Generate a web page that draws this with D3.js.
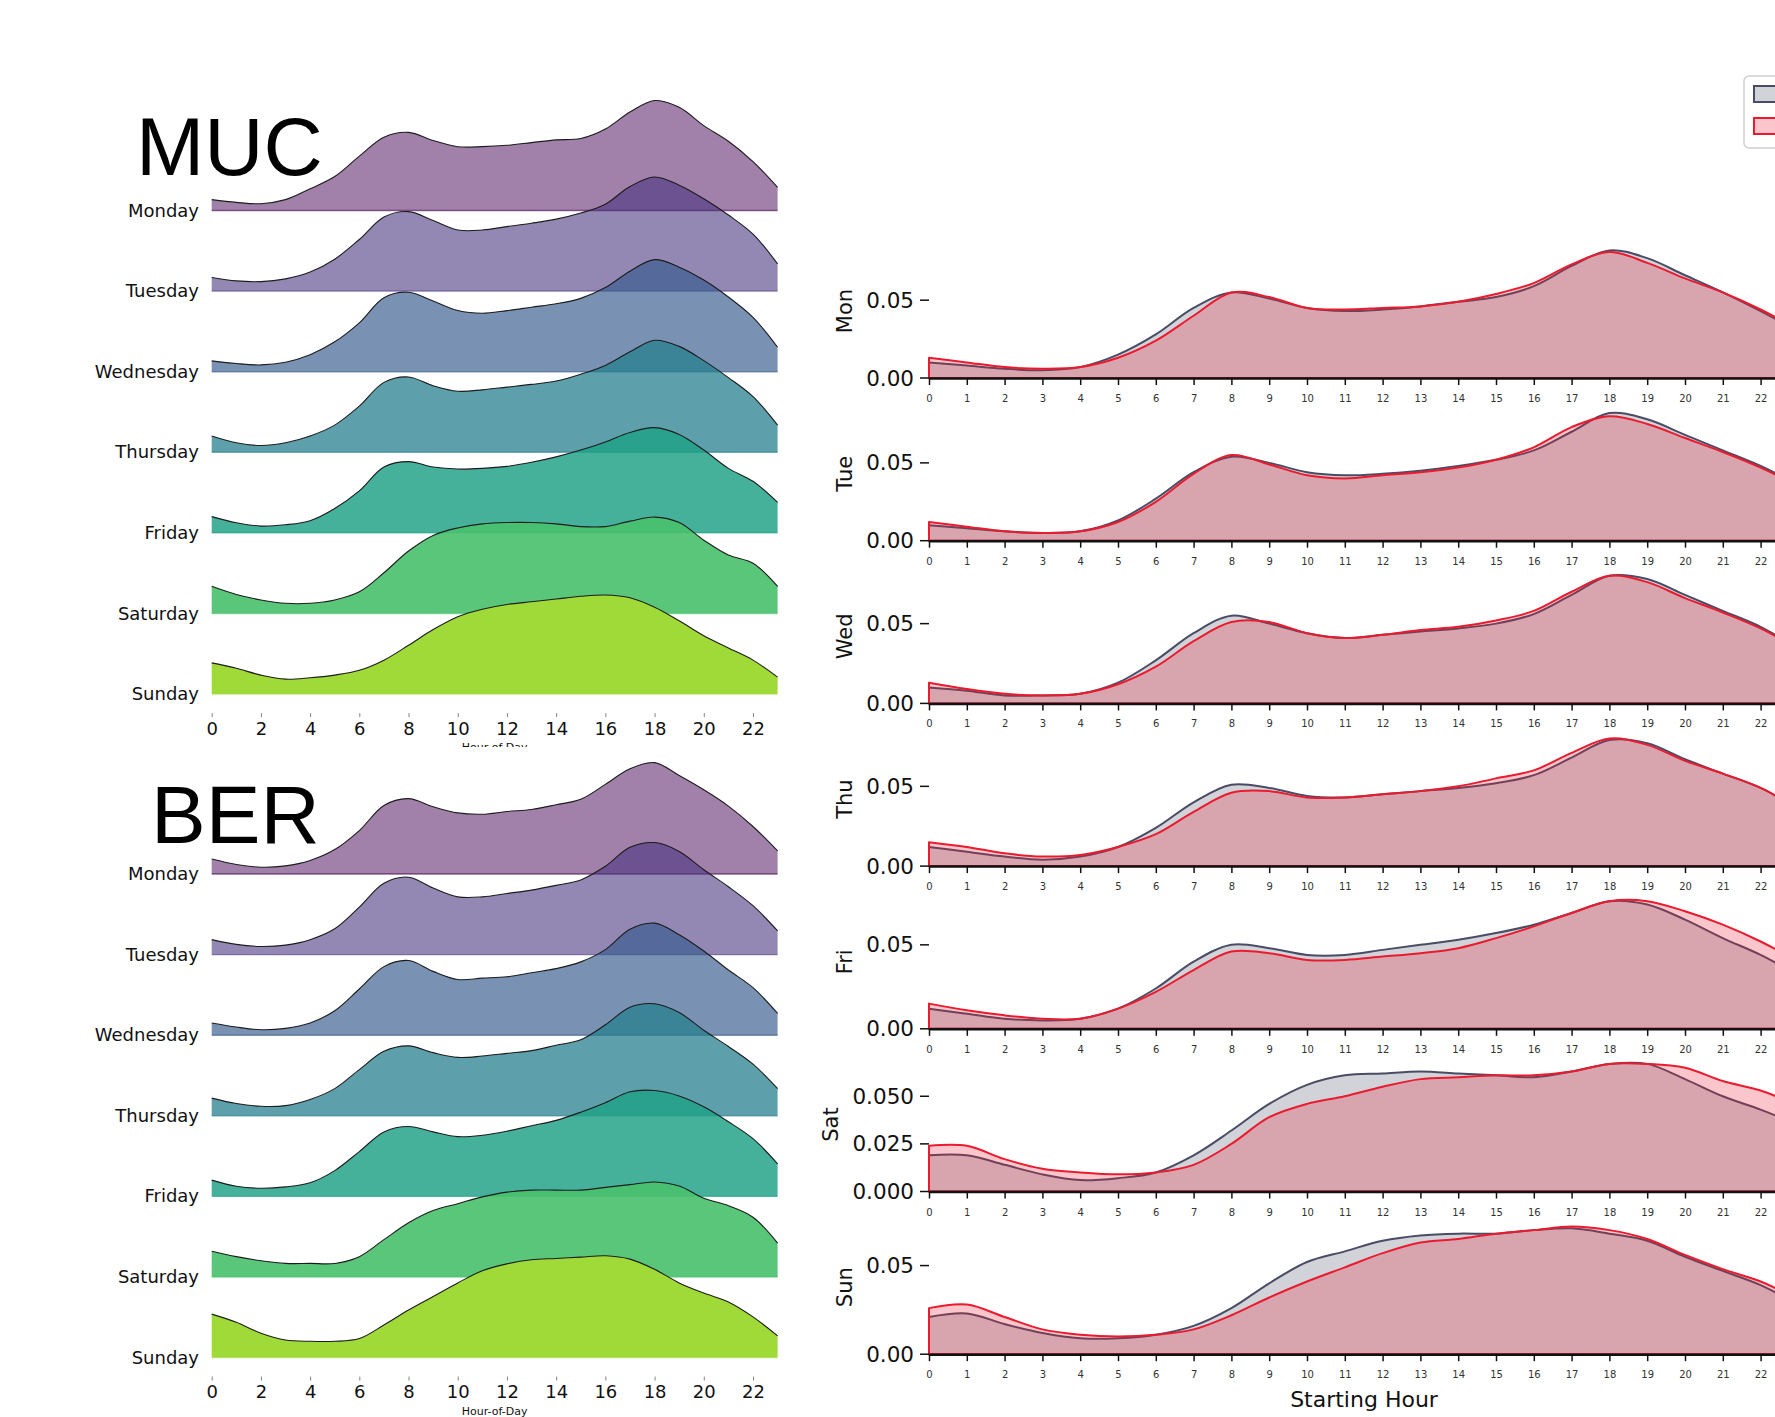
<!DOCTYPE html>
<html>
<head>
<meta charset="utf-8">
<script src="https://cdn.jsdelivr.net/npm/d3@7"></script>
<style>
  body { margin: 0; background: #fff; }
  svg { display: block; }
</style>
</head>
<body>
<div id="chart"></div>
<script>
// ---- data ----
const days = ['Monday', 'Tuesday', 'Wednesday', 'Thursday', 'Friday', 'Saturday', 'Sunday'];
const dayShort = ['Mon', 'Tue', 'Wed', 'Thu', 'Fri', 'Sat', 'Sun'];
const hours = [0, 1, 2, 3, 4, 5, 6, 7, 8, 9, 10, 11, 12, 13, 14, 15, 16, 17, 18, 19, 20, 21, 22, 23];
const ridgeTicks = [0, 2, 4, 6, 8, 10, 12, 14, 16, 18, 20, 22];

// ridge densities per hour, Monday..Sunday
const mucRidges = [
  [.008, .006, .005, .008, .016, .025, .040, .054, .0575, .0515, .047, .047, .048, .050, .052, .053, .060, .0725, .081, .076, .0625, .051, .036, .017],
  [.010, .0075, .007, .009, .014, .0235, .038, .0545, .0585, .052, .045, .045, .0475, .050, .053, .0575, .064, .077, .084, .078, .068, .056, .042, .020],
  [.008, .006, .005, .007, .0125, .022, .036, .0545, .0585, .052, .045, .043, .045, .0475, .050, .054, .062, .074, .0825, .077, .0675, .055, .040, .018],
  [.012, .007, .005, .007, .012, .020, .034, .0515, .0555, .049, .045, .046, .048, .050, .0525, .0575, .064, .074, .0825, .078, .0675, .055, .041, .020],
  [.012, .0075, .005, .006, .009, .018, .031, .0485, .0525, .0485, .047, .0475, .049, .052, .056, .061, .067, .074, .0775, .0725, .061, .0475, .038, .0225],
  [.020, .014, .010, .0075, .0075, .010, .016, .030, .046, .0575, .063, .066, .067, .067, .066, .064, .064, .068, .071, .067, .054, .043, .037, .020],
  [.023, .019, .014, .011, .012, .014, .0175, .025, .036, .0475, .057, .0625, .066, .068, .070, .072, .073, .071, .064, .054, .043, .034, .025, .0125]
];
const berRidges = [
  [.011, .007, .005, .006, .010, .018, .032, .0505, .0555, .0495, .045, .044, .046, .0475, .051, .055, .066, .0775, .082, .0725, .062, .050, .035, .017],
  [.011, .0075, .006, .007, .011, .019, .035, .0525, .057, .049, .0425, .0425, .045, .0475, .051, .055, .065, .079, .0825, .076, .0625, .050, .036, .0175],
  [.009, .006, .004, .005, .009, .018, .034, .0505, .055, .047, .041, .042, .043, .046, .049, .054, .063, .078, .0825, .074, .062, .048, .035, .016],
  [.013, .009, .007, .0075, .012, .020, .034, .0475, .0515, .0465, .043, .044, .046, .048, .052, .056, .067, .080, .0825, .076, .063, .051, .038, .020],
  [.012, .0075, .006, .007, .010, .019, .033, .0475, .0515, .0475, .044, .045, .048, .052, .056, .062, .069, .077, .078, .074, .066, .055, .0425, .024],
  [.019, .015, .012, .010, .010, .010, .015, .0275, .040, .049, .054, .059, .0625, .064, .064, .064, .066, .068, .070, .067, .058, .0525, .044, .025],
  [.032, .026, .018, .013, .012, .012, .014, .024, .035, .045, .055, .064, .069, .072, .073, .074, .075, .0725, .065, .055, .0475, .041, .030, .016]
];

// starting hour densities (right panel), grey series and red series
const mucDensity = [
  [0.010, 0.008, 0.006, 0.005, 0.007, 0.015, 0.028, 0.045, 0.055, 0.051, 0.045, 0.043, 0.044, 0.046, 0.049, 0.052, 0.059, 0.072, 0.082, 0.077, 0.066, 0.055, 0.043, 0.030],
  [0.010, 0.008, 0.006, 0.005, 0.006, 0.013, 0.027, 0.044, 0.054, 0.050, 0.044, 0.042, 0.043, 0.045, 0.048, 0.052, 0.058, 0.070, 0.082, 0.078, 0.068, 0.058, 0.048, 0.036],
  [0.010, 0.008, 0.005, 0.005, 0.006, 0.013, 0.027, 0.044, 0.055, 0.050, 0.044, 0.041, 0.043, 0.045, 0.047, 0.050, 0.056, 0.068, 0.080, 0.078, 0.068, 0.058, 0.048, 0.034],
  [0.012, 0.009, 0.006, 0.004, 0.006, 0.012, 0.024, 0.040, 0.051, 0.049, 0.044, 0.043, 0.045, 0.047, 0.049, 0.052, 0.057, 0.068, 0.079, 0.077, 0.067, 0.058, 0.049, 0.036],
  [0.012, 0.009, 0.006, 0.005, 0.006, 0.012, 0.024, 0.040, 0.050, 0.048, 0.044, 0.044, 0.047, 0.050, 0.053, 0.057, 0.062, 0.069, 0.076, 0.074, 0.065, 0.054, 0.044, 0.032],
  [0.019, 0.019, 0.014, 0.009, 0.006, 0.007, 0.010, 0.019, 0.032, 0.046, 0.056, 0.061, 0.062, 0.063, 0.062, 0.061, 0.060, 0.063, 0.067, 0.067, 0.059, 0.050, 0.043, 0.035],
  [0.021, 0.023, 0.017, 0.012, 0.009, 0.009, 0.011, 0.016, 0.026, 0.040, 0.052, 0.058, 0.064, 0.067, 0.068, 0.068, 0.070, 0.071, 0.068, 0.064, 0.055, 0.047, 0.039, 0.028]
];
const berDensity = [
  [0.013, 0.010, 0.007, 0.006, 0.007, 0.013, 0.024, 0.040, 0.055, 0.052, 0.045, 0.044, 0.045, 0.046, 0.049, 0.054, 0.061, 0.073, 0.081, 0.074, 0.064, 0.055, 0.044, 0.031],
  [0.012, 0.009, 0.006, 0.005, 0.006, 0.012, 0.025, 0.043, 0.055, 0.049, 0.042, 0.040, 0.042, 0.044, 0.047, 0.052, 0.060, 0.073, 0.080, 0.075, 0.066, 0.057, 0.047, 0.035],
  [0.013, 0.009, 0.006, 0.005, 0.006, 0.012, 0.023, 0.039, 0.051, 0.051, 0.044, 0.041, 0.043, 0.046, 0.048, 0.052, 0.058, 0.070, 0.080, 0.076, 0.066, 0.057, 0.047, 0.034],
  [0.015, 0.012, 0.008, 0.006, 0.007, 0.012, 0.020, 0.034, 0.046, 0.047, 0.043, 0.043, 0.045, 0.047, 0.050, 0.055, 0.060, 0.071, 0.080, 0.076, 0.066, 0.058, 0.049, 0.036],
  [0.015, 0.011, 0.008, 0.006, 0.006, 0.012, 0.022, 0.035, 0.046, 0.045, 0.041, 0.041, 0.043, 0.045, 0.048, 0.054, 0.061, 0.069, 0.076, 0.076, 0.070, 0.062, 0.052, 0.040],
  [0.024, 0.024, 0.017, 0.012, 0.010, 0.009, 0.010, 0.014, 0.025, 0.039, 0.046, 0.050, 0.055, 0.059, 0.060, 0.061, 0.061, 0.063, 0.067, 0.067, 0.065, 0.058, 0.053, 0.045],
  [0.026, 0.028, 0.021, 0.014, 0.011, 0.010, 0.011, 0.014, 0.022, 0.032, 0.041, 0.049, 0.057, 0.063, 0.065, 0.068, 0.070, 0.072, 0.070, 0.065, 0.056, 0.048, 0.041, 0.031]
];
const yTickLabels = [
  ['0.00', '0.05'], ['0.00', '0.05'], ['0.00', '0.05'], ['0.00', '0.05'],
  ['0.00', '0.05'], ['0.000', '0.025', '0.050'], ['0.00', '0.05']
];

// ---- setup ----
const W = 1775, H = 1417;
const font = '"DejaVu Sans", Verdana, sans-serif';
const svg = d3.select('#chart')
  .append('svg')
  .attr('width', W)
  .attr('height', H)
  .style('font-family', font);

// ---- left: ridge plots ----
const xL = d3.scaleLinear().domain([0, 23]).range([211.7, 777.6]);
const ridgeY = d3.scaleLinear().domain([0, 0.1]).range([0, 135.8]);
const ridgeStep = 80.6;
const ridgeAlpha = [0.5, 0.583, 0.667, 0.75, 0.833, 0.917, 1];

function drawRidges(rows, top, title, titleX, titleY, bgTop) {
  const g = svg.append('g');
  if (bgTop != null) {
    // next figure block has a white background that hides the label above it
    g.append('rect')
      .attr('x', 0).attr('y', bgTop)
      .attr('width', 800).attr('height', H - bgTop)
      .attr('fill', '#fff');
  }

  rows.forEach((vals, i) => {
    const base = top + i * ridgeStep;
    const col = d3.interpolateViridis(i / 7);
    const pts = hours.map((h, j) => [h, vals[j]]);

    const area = d3.area()
      .x(d => xL(d[0]))
      .y0(base)
      .y1(d => base - ridgeY(d[1]))
      .curve(d3.curveCatmullRom);
    const line = d3.line()
      .x(d => xL(d[0]))
      .y(d => base - ridgeY(d[1]))
      .curve(d3.curveCatmullRom);

    g.append('path')
      .datum(pts)
      .attr('d', area)
      .attr('fill', col)
      .attr('fill-opacity', ridgeAlpha[i]);

    g.append('line')
      .attr('x1', xL(0)).attr('x2', xL(23))
      .attr('y1', base).attr('y2', base)
      .attr('stroke', col)
      .attr('stroke-opacity', 0.6)
      .attr('stroke-width', 1.4);

    g.append('path')
      .datum(pts)
      .attr('d', line)
      .attr('fill', 'none')
      .attr('stroke', '#1c1c1c')
      .attr('stroke-width', 1.1);

    g.append('text')
      .attr('x', 199)
      .attr('y', base + 6)
      .attr('text-anchor', 'end')
      .style('font-size', '18px')
      .attr('fill', '#111')
      .text(days[i]);
  });

  // x-axis under the last ridge
  const last = top + 6 * ridgeStep;
  const ax = g.append('g')
    .attr('transform', `translate(0, ${last + 19})`)
    .call(d3.axisBottom(xL)
      .tickValues(ridgeTicks)
      .tickSize(4)
      .tickSizeOuter(0)
      .tickPadding(5));
  ax.select('.domain').remove();
  ax.selectAll('.tick line').attr('stroke', '#666').attr('stroke-width', 0.8);
  ax.selectAll('.tick text')
    .style('font-size', '18px')
    .style('font-family', font)
    .attr('fill', '#111');

  g.append('text')
    .attr('x', (xL(0) + xL(23)) / 2)
    .attr('y', last + 57)
    .attr('text-anchor', 'middle')
    .style('font-size', '11px')
    .attr('fill', '#111')
    .text('Hour-of-Day');

  // big city title
  g.append('text')
    .attr('x', titleX)
    .attr('y', titleY)
    .style('font-family', '"Liberation Sans", Arial, sans-serif')
    .style('font-size', '82px')
    .attr('fill', '#000')
    .text(title);
}

drawRidges(mucRidges, 210.5, 'MUC', 136, 175, null);
drawRidges(berRidges, 874, 'BER', 151, 843, 747);

// ---- right: starting hour densities ----
const xR = d3.scaleLinear().domain([0, 23]).range([929, 1798.4]);
const panelStep = 162.7;
const panelH = 134;
const greyCol = '#4a4c66';
const redCol = '#ea1b2e';
// the figure is cropped at the right edge: only hours whose label fits are labelled
const visibleHours = hours.filter(h => xR(h) + 8 < W);

dayShort.forEach((name, i) => {
  const base = 378 + i * panelStep;
  const ymax = d3.max(mucDensity[i].concat(berDensity[i])) * 1.05;
  const y = d3.scaleLinear().domain([0, ymax]).range([base, base - panelH]);
  const g = svg.append('g');

  [[mucDensity[i], greyCol], [berDensity[i], redCol]].forEach(([vals, col]) => {
    const pts = hours.map((h, j) => [h, vals[j]]);
    g.append('path')
      .datum(pts)
      .attr('d', d3.area()
        .x(d => xR(d[0]))
        .y0(base)
        .y1(d => y(d[1]))
        .curve(d3.curveCatmullRom))
      .attr('fill', col)
      .attr('fill-opacity', 0.25)
      .attr('stroke', col)
      .attr('stroke-width', 2)
      .attr('stroke-linejoin', 'round');
  });

  // x-axis
  const ax = g.append('g')
    .attr('transform', `translate(0, ${base})`)
    .call(d3.axisBottom(xR)
      .tickValues(visibleHours)
      .tickSize(7)
      .tickSizeOuter(0)
      .tickPadding(10));
  ax.select('.domain').attr('stroke', '#111').attr('stroke-width', 2.5);
  ax.selectAll('.tick line').attr('stroke', '#111').attr('stroke-width', 1.5);
  ax.selectAll('.tick text')
    .style('font-size', '10px')
    .style('font-family', font)
    .attr('fill', '#333');

  // y ticks
  const yt = g.append('g');
  yTickLabels[i].forEach(lab => {
    const v = +lab;
    yt.append('line')
      .attr('x1', 920).attr('x2', 929)
      .attr('y1', y(v)).attr('y2', y(v))
      .attr('stroke', '#111')
      .attr('stroke-width', 1.5);
    yt.append('text')
      .attr('x', 914)
      .attr('y', y(v) + 7.5)
      .attr('text-anchor', 'end')
      .style('font-size', '21.5px')
      .attr('fill', '#111')
      .text(lab);
  });
  const bb = yt.node().getBBox();

  g.append('text')
    .attr('transform', `translate(${bb.x - 14}, ${base - panelH / 2}) rotate(-90)`)
    .attr('text-anchor', 'middle')
    .style('font-size', '21px')
    .attr('fill', '#111')
    .text(name);
});

svg.append('text')
  .attr('x', 1364)
  .attr('y', 1407)
  .attr('text-anchor', 'middle')
  .style('font-size', '22px')
  .attr('fill', '#111')
  .text('Starting Hour');

// legend (cut by the right edge)
const lg = svg.append('g');
lg.append('rect')
  .attr('x', 1744).attr('y', 76)
  .attr('width', 120).attr('height', 72)
  .attr('rx', 5)
  .attr('fill', '#fff')
  .attr('stroke', '#d0d0d0')
  .attr('stroke-width', 1.5);
[greyCol, redCol].forEach((col, k) => {
  lg.append('rect')
    .attr('x', 1754).attr('y', 86 + k * 32)
    .attr('width', 40).attr('height', 16)
    .attr('fill', col)
    .attr('fill-opacity', 0.25)
    .attr('stroke', col)
    .attr('stroke-width', 2);
});
</script>
</body>
</html>
